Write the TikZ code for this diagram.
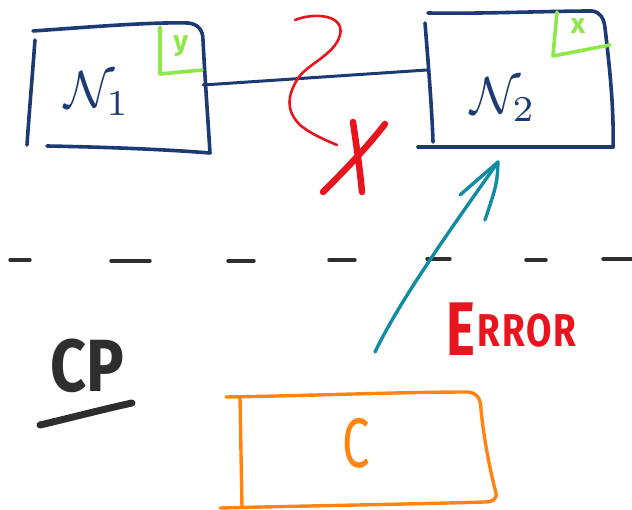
\documentclass[tikz,border=0pt]{standalone}
\usepackage{fontspec}
\setsansfont{Fira Sans}
\usetikzlibrary{calc}
\definecolor{navy}{HTML}{1C3B74}
\definecolor{lime}{HTML}{8EE84A}
\definecolor{scarlet}{HTML}{E8141E}
\definecolor{teal}{HTML}{128CA2}
\definecolor{tangerine}{HTML}{FF8412}
\definecolor{ink}{HTML}{2E2E2E}
\tikzset{
  pen/.style={line width=#1, line cap=round, line join=round},
  boxline/.style={navy, pen=3.6pt},
  tag/.style={lime, pen=3.6pt},
  tagtext/.style={lime, font=\sffamily\bfseries\fontsize{28}{28}\selectfont, inner sep=0pt},
  nodetext/.style={navy, inner sep=0pt},
  cut/.style={ink, pen=3.4pt},
}
\begin{document}
\begin{tikzpicture}[x=1pt, y=-1pt]
\useasboundingbox (0,0) rectangle (632,510);

% ---- node N1 ----
\draw[boxline] (33,31) .. controls (90,27) and (150,22) .. (188,23)
  .. controls (198,24) and (203,30) .. (203,40)
  .. controls (205,80) and (208,120) .. (210,153);
\draw[boxline] (47,146) .. controls (100,147) and (160,149) .. (210,153);
\draw[boxline] (35,40) .. controls (32,80) and (29,115) .. (27,145);
\draw[tag] (160,27) -- (160,74) -- (202,70);
\node[tagtext] (y1) at (181,46) {y};
\node[nodetext] (n1) at (97,94) {\scalebox{5.2}{$\mathcal{N}_{1}$}};
\coordinate (n1e) at (203,85);

% ---- node N2 ----
\draw[boxline] (428,13) .. controls (480,14) and (550,11) .. (592,11)
  .. controls (600,12) and (604,18) .. (605,28)
  .. controls (610,70) and (614,110) .. (613,147);
\draw[boxline] (418,147) -- (613,147);
\draw[boxline] (425,23) .. controls (428,60) and (432,110) .. (433,142);
\draw[tag] (557,12) -- (553,56) -- (610,45);
\node[tagtext] (x2) at (578,26) {x};
\node[nodetext] (n2) at (503,100) {\scalebox{5.2}{$\mathcal{N}_{2}$}};
\coordinate (n2w) at (427,70);
\coordinate (n2s) at (498,162);

% ---- link N1 -- N2 ----
\draw[navy, pen=3pt] (n1e) -- (n2w);

% ---- broken link: squiggle and cross ----
\draw[scarlet, pen=2.6pt] (295,20) .. controls (315,12) and (345,15) .. (340,35)
  .. controls (335,55) and (305,65) .. (297,80)
  .. controls (288,95) and (285,110) .. (300,125)
  .. controls (312,135) and (330,142) .. (337,145);
\draw[scarlet, pen=6.5pt] (353,122) .. controls (357,150) and (360,170) .. (362,192);
\draw[scarlet, pen=6.5pt] (385,124) .. controls (365,150) and (340,175) .. (323,192);

% ---- partition line ----
\foreach \a/\b/\yy in {10/30/260, 111/150/261, 228/254/261, 329/355/260, 427/450/259, 526/546/260, 603/632/259}
  \draw[cut] (\a,\yy) -- (\b,\yy);

% ---- controller C ----
\draw[tangerine, pen=3.4pt] (226,397) .. controls (300,396) and (400,392) .. (468,392)
  .. controls (478,393) and (481,400) .. (481,410)
  .. controls (484,440) and (490,470) .. (496,493)
  .. controls (497,500) and (492,502) .. (484,502);
\draw[tangerine, pen=3.4pt] (220,508) .. controls (300,506) and (420,504) .. (484,502);
\draw[tangerine, pen=3.4pt] (240,398) -- (242,507);
\node[tangerine, inner sep=0pt, font=\sffamily\fontsize{70}{70}\selectfont] (c) at (356,443) {\scalebox{0.7}[1]{C}};
\coordinate (cs) at (375,352);

% ---- error report C -> N2 ----
\draw[teal, pen=3.4pt] (cs) .. controls (400,300) and (450,230) .. (n2s);
\draw[teal, pen=3.4pt] ([shift={(-38,33)}]n2s) -- (n2s)
  .. controls ([shift={(-1,22)}]n2s) .. ([shift={(-13,58)}]n2s);
\node[scarlet, anchor=base west, inner sep=0pt, font=\sffamily\bfseries] (err) at (446,356)
  {\scalebox{0.72}[1]{\fontsize{76}{76}\selectfont E}\hspace{3pt}\raisebox{9pt}{\scalebox{0.8}[1]{\fontsize{46}{46}\selectfont R\hspace{2pt}R\hspace{2pt}O\hspace{2pt}R}}};

% ---- plane label ----
\node[ink, inner sep=0pt, font=\sffamily\bfseries\fontsize{74}{74}\selectfont] (cp) at (87,366) {\scalebox{0.85}[1]{CP}};
\draw[ink, pen=7pt] (40,425) .. controls (70,418) and (100,410) .. (132,403);
\end{tikzpicture}
\end{document}
